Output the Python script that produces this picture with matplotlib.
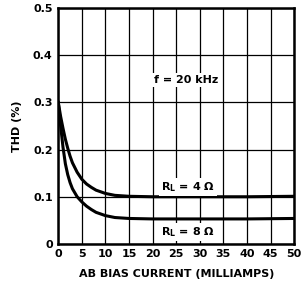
import matplotlib
matplotlib.use('Agg')
import matplotlib.pyplot as plt

plt.rcParams['font.family'] = ['Liberation Sans Narrow', 'DejaVu Sans']
plt.rcParams['font.weight'] = 'bold'

# bias current (mA) and THD (%)
bias_ma = [0, 0.5, 1, 1.5, 2, 2.5, 3, 4, 5, 6, 7, 8, 10, 12, 15, 20, 30, 40, 50]
thd_4ohm = [0.300, 0.270, 0.245, 0.222, 0.203, 0.186, 0.172, 0.152, 0.137, 0.127, 0.120, 0.114,
            0.107, 0.103, 0.101, 0.100, 0.100, 0.100, 0.101]
thd_8ohm = [0.300, 0.250, 0.205, 0.170, 0.147, 0.130, 0.117, 0.100, 0.089, 0.080, 0.073, 0.067,
            0.060, 0.056, 0.054, 0.053, 0.053, 0.053, 0.054]

x_ticks = list(range(0, 51, 5))
y_ticks = [0, 0.1, 0.2, 0.3, 0.4, 0.5]
y_labels = ['0', '0.1', '0.2', '0.3', '0.4', '0.5']

fig = plt.figure(figsize=(3.02, 2.88), dpi=100)
ax = fig.add_axes([0.193, 0.153, 0.781, 0.819])

ax.plot(bias_ma, thd_4ohm, color='black', linewidth=2.2, solid_joinstyle='round', zorder=3)
ax.plot(bias_ma, thd_8ohm, color='black', linewidth=2.2, solid_joinstyle='round', zorder=3)

ax.set_xlim(0, 50)
ax.set_ylim(0, 0.5)
ax.set_xticks(x_ticks)
ax.set_yticks(y_ticks)
ax.set_yticklabels(y_labels)
ax.tick_params(length=0, labelsize=8, pad=4)
for lbl in ax.get_xticklabels() + ax.get_yticklabels():
    lbl.set_fontweight('bold')

ax.grid(True, color='black', linewidth=0.9)
for s in ax.spines.values():
    s.set_linewidth(1.8)

ax.set_xlabel('AB BIAS CURRENT (MILLIAMPS)', fontsize=8, fontweight='bold', labelpad=7)
ax.set_ylabel('THD (%)', fontsize=8, fontweight='bold', labelpad=8)

box = dict(facecolor='white', edgecolor='none', pad=1.5)
ax.text(27, 0.347, 'f = 20 kHz', fontsize=8, fontweight='bold', ha='center', va='center', bbox=box)
ax.text(27.5, 0.121, r'R$_\mathbf{L}$ = 4 Ω', fontsize=8, fontweight='bold', ha='center', va='center', bbox=box)
ax.text(27.5, 0.026, r'R$_\mathbf{L}$ = 8 Ω', fontsize=8, fontweight='bold', ha='center', va='center', bbox=box)

fig.savefig('out.png', dpi=100)
